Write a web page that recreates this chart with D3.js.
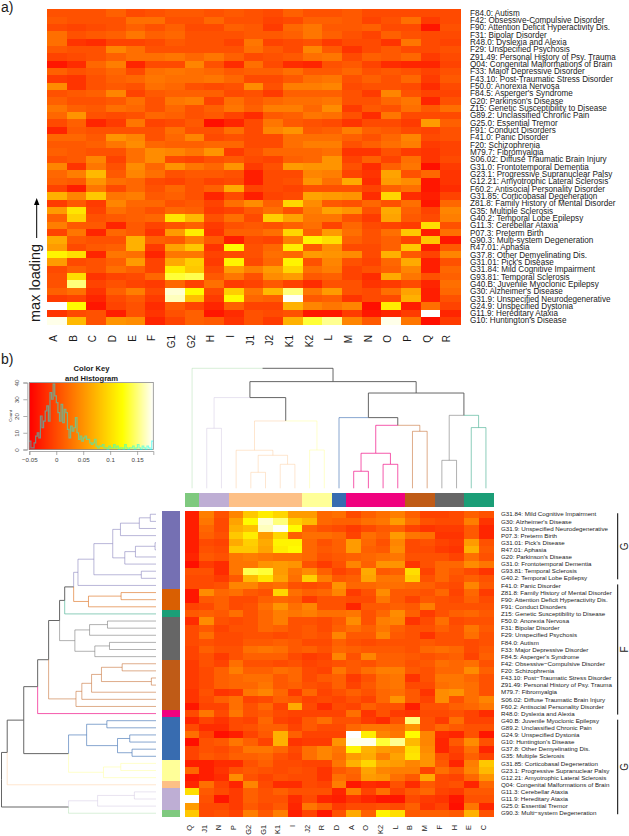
<!DOCTYPE html>
<html>
<head>
<meta charset="utf-8">
<script src="https://cdn.jsdelivr.net/npm/d3@7"></script>
<style>
	html, body { margin: 0; padding: 0; background: #fff; }
	text { font-family: "Liberation Sans", Arial, sans-serif; fill: #1a1a1a; }
</style>
</head>
<body>
<script>
//row labels as printed in panel a, top to bottom
const rowLabelsA = [
	"F84.0: Autism", "F42: Obsessive-Compulsive Disorder", "F90: Attention Deficit Hyperactivity Dis.",
	"F31: Bipolar Disorder", "R48.0: Dyslexia and Alexia", "F29: Unspecified Psychosis",
	"Z91.49: Personal History of Psy. Trauma", "Q04: Congenital Malformations of Brain",
	"F33: Major Depressive Disorder", "F43.10: Post-Traumatic Stress Disorder", "F50.0: Anorexia Nervosa",
	"F84.5: Asperger's Syndrome", "G20: Parkinson's Disease", "Z15: Genetic Susceptibility to Disease",
	"G89.2: Unclassified Chronic Pain", "G25.0: Essential Tremor", "F91: Conduct Disorders",
	"F41.0: Panic Disorder", "F20: Schizophrenia", "M79.7: Fibromyalgia",
	"S06.02: Diffuse Traumatic Brain Injury", "G31.0: Frontotemporal Dementia",
	"G23.1: Progressive Supranuclear Palsy", "G12.21: Amyotrophic Lateral Sclerosis",
	"F60.2: Antisocial Personality Disorder", "G31.85: Corticobasal Degeneration",
	"Z81.8: Family History of Mental Disorder", "G35: Multiple Sclerosis", "G40.2: Temporal Lobe Epilepsy",
	"G11.3: Cerebellar Ataxia", "P07.3: Preterm Birth", "G90.3: Multi-system Degeneration",
	"R47.01: Aphasia", "G37.8: Other Demyelinating Dis.", "G31.01: Pick's Disease",
	"G31.84: Mild Cognitive Impairment", "G93.81: Temporal Sclerosis", "G40.B: Juvenile Myoclonic Epilepsy",
	"G30: Alzheimer's Disease", "G31.9: Unspecified Neurodegenerative", "G24.9: Unspecified Dystonia",
	"G11.9: Hereditary Ataxia", "G10: Huntington's Disease"
];
const colsA = ["A", "B", "C", "D", "E", "F", "G1", "G2", "H", "I", "J1", "J2", "K1", "K2", "L", "M", "N", "O", "P", "Q", "R"];

//clustered order of panel b
const rowCodesB = [
	"G31.84", "G30", "G31.9", "P07.3", "G31.01", "R47.01", "G20", "G31.0", "G93.81", "G40.2", "F41.0",
	"Z81.8", "F90", "F91", "Z15", "F50.0", "F31", "F29", "F84.0", "F33", "F84.5", "F42", "F20", "F43.10",
	"Z91.49", "M79.7", "S06.02", "F60.2", "R48.0", "G40.B", "G89.2", "G24.9", "G10", "G37.8", "G35",
	"G31.85", "G23.1", "G12.21", "Q04", "G11.3", "G11.9", "G25.0", "G90.3"
];
const colsB = ["Q", "J1", "N", "P", "G2", "G1", "K1", "I", "J2", "R", "D", "A", "O", "K2", "L", "B", "M", "F", "H", "E", "C"];

//loadings x 1000, rows in rowCodesB order, columns in colsB order
const loadings = [
	[-30, 35, 5, 40, 85, 110, 95, 55, 55, 20, 25, 0, 15, 25, 35, 15, -5, -5, 0, 15, 5],
	[-30, 30, 0, 60, 120, 170, 150, 90, 75, 20, 15, 15, 25, 30, 55, 25, 5, 0, 0, 35, -15],
	[-30, 20, 0, 70, 80, 165, 178, 120, 15, 5, 0, -10, 0, 10, 15, -5, -15, -10, -10, 10, -25],
	[-30, 15, 5, 85, 110, 55, 95, 15, 25, 25, 20, -5, 25, 15, 55, 30, 25, -15, -15, 10, -25],
	[-30, 0, -5, 65, 90, 65, 115, 115, 20, 5, 15, 55, 20, 5, 40, 0, 5, -5, -10, 55, 5],
	[-30, 5, 0, 85, 85, 60, 110, 120, 20, 10, 15, 55, 15, 10, 45, 0, 0, -10, -15, 70, 10],
	[-25, 10, 5, 30, 35, 30, 25, 25, 20, 5, 10, 15, 20, 25, 30, 5, 5, 5, -5, 25, 5],
	[-40, -10, -20, 30, 30, 50, 55, 50, 5, -10, 5, 40, 15, 50, 50, -15, 5, 20, 20, 45, 30],
	[5, 5, -20, 30, 140, 135, 55, 30, 45, 15, -5, 5, 65, 10, 15, 100, -5, 20, 10, 0, -15],
	[0, 0, -10, 10, 75, 105, 60, 25, 90, 35, 10, 15, 60, 30, 30, 90, 5, 20, 5, 15, 5],
	[0, 0, 5, 40, 40, 20, 25, 5, 0, 5, 50, 20, 20, 25, 25, 20, 15, 5, 0, 40, 10],
	[-35, 45, 20, 25, 10, 5, 95, 25, 15, 20, 40, -10, 5, 45, 10, 10, 5, 20, -5, 20, -10],
	[-35, 10, 15, 0, 0, 15, 20, 15, -10, 5, 5, 0, 0, 30, 10, -5, 10, 5, 0, 15, 0],
	[-5, 0, 15, 0, 5, 25, 50, 25, 40, 5, 5, -25, 10, 10, 15, 10, 35, 5, 5, 5, 5],
	[10, 15, 10, 25, 5, 20, 35, 30, 35, 25, 25, 30, 5, 20, 45, 15, -10, 5, 15, 20, 10],
	[-20, 45, 5, 0, 5, 20, 35, 5, 5, 0, 10, 45, 5, 35, 40, -15, 0, 25, 0, 5, 5],
	[0, 10, -5, 5, 5, 20, 15, 5, 10, 0, 15, 25, 15, 30, 15, 5, 5, 15, 5, 30, 10],
	[0, 25, 0, 0, 5, 5, 0, 5, 10, 5, 40, 10, 10, 40, 10, 5, -15, 5, 5, 25, 5],
	[0, 5, 0, 0, 10, 10, 15, 10, 0, 0, 15, 5, 0, 5, 5, 5, 10, 5, 5, 0, 5],
	[-5, 15, 5, 5, 25, 30, 25, 10, 15, 5, 20, 15, 10, 10, 10, 5, 20, 25, 20, 0, 10],
	[-5, 5, -10, 5, 15, 15, 15, 0, -10, -5, 40, 5, 40, 15, 15, 10, 5, 10, 15, -5, 15],
	[-10, 5, -5, 25, 5, 5, 0, 5, -5, 0, 5, 10, 5, 15, 15, 5, 10, 25, 20, 25, 5],
	[-10, 0, 15, 35, 15, 15, 25, 20, 0, -5, 30, 10, 25, 35, 35, 10, 5, 20, 20, 45, 15],
	[-10, 0, 15, 20, 25, 25, 10, 20, 0, 10, 15, -10, 5, 25, 30, -15, 5, 30, 30, 20, 5],
	[-10, 0, 15, 20, 20, 30, 10, 15, 5, 0, 15, -5, 10, 25, 30, 0, 0, 25, 30, 25, 5],
	[-15, 5, -15, -10, 30, 40, 20, -10, 20, -5, 5, 15, 5, 20, 25, 10, -15, 45, 50, 25, 5],
	[-15, 0, 15, 25, -5, 0, 15, 10, -5, 0, -5, 5, -5, 20, 50, 10, -5, 45, 5, 25, 40],
	[-35, -5, -5, 25, 5, 20, -5, 65, 0, -20, 0, -5, 15, 5, 5, -30, 5, 5, 15, 20, 30],
	[0, 30, 0, 30, 5, 10, 0, -5, -5, -5, -5, 25, -15, 5, -10, -15, 0, 0, 5, -5, -20],
	[-25, -5, -15, 0, -5, 20, -5, -10, 10, 25, 5, 5, -10, -20, 5, 150, 5, -10, 25, -5, -5],
	[0, -20, -20, 0, 5, 15, 15, -5, 10, 0, 0, 20, 30, 30, 25, 50, 5, 20, 10, 5, 5],
	[25, -5, -40, -30, -5, 10, 70, 15, -5, -5, -5, 180, 110, 40, 30, 120, 40, -20, -25, 5, -35],
	[-40, 5, 10, 30, 15, -5, 70, -15, -10, -10, 50, 175, 175, 135, 155, 75, 40, -25, 10, 45, 5],
	[-5, 5, 0, 10, 30, 30, 20, 0, 25, 40, 30, 115, 70, 55, 50, 100, 45, -25, -5, 25, -25],
	[-5, 10, 5, 15, 15, 20, 5, -5, 25, 40, 25, 55, 65, 35, 60, 105, 50, 5, -10, 15, -5],
	[-30, -30, -20, -20, 5, 15, 0, 0, -5, -5, 30, 70, 95, 60, 55, 40, 50, 10, -25, 35, 85],
	[20, -30, -15, 5, 10, 5, 0, 5, 0, -15, 10, 20, 60, 40, 35, 35, -5, 25, 10, 40, 75],
	[-35, -30, -20, 45, 5, -5, 5, 0, 0, -15, 25, 15, 55, 50, 25, 10, 65, 0, -5, 20, 50],
	[-25, 25, -5, -25, 40, 0, -20, -20, 0, -5, 35, -35, -20, -25, 5, -20, 10, 0, 5, -25, 20],
	[100, 10, 0, -10, 15, 5, 15, 5, 5, 5, -25, 35, -5, 25, -5, 10, 20, -5, -10, 10, 10],
	[180, 5, -35, -10, 15, 5, 5, -20, 0, -25, -30, -15, -25, -35, -35, 0, -10, -15, -35, 5, 5],
	[55, 0, 0, -10, 10, 0, 10, -25, 30, 15, -10, 0, 0, 5, 0, 15, -15, -5, -40, 30, -25],
	[85, 0, 5, -5, 35, 10, 35, -30, -5, -35, 5, 65, 15, 115, 100, 10, 15, 15, 10, 70, 5]
];

//dendrograms as [height, left, right], height relative to the root
const colTree = [1,
	"Q",
	[.889,
		[.756,
			[.5, "J1", "N"],
			[.561,
				[.317, "P", [.275, [.133, "G2", "G1"], [.2, "K1", "I"]]],
				[.319, "J2", "R"]
			]
		],
		[.794,
			[.589,
				"D",
				[.525,
					[.292, [.142, "A", "O"], [.2, "K2", "L"]],
					[.475, "B", "M"]
				]
			],
			[.608, [.233, "F", "H"], [.506, "E", "C"]]
		]
	]
];
const rowTree = [1,
	[.963,
		[.856,
			[.766,
				[.695,
					[.624,
						[.591,
							[.533,
								[.505,
									[.402,
										[.28,
											[.23, [.108, [.037, "G31.84", "G30"], "G31.9"], "P07.3"],
											[.202, [.133, [.006, "G31.01", "R47.01"], "G20"], "G31.0"]
										],
										[.095, "G93.81", "G40.2"]
									],
									"F41.0"
								],
								[.437, [.226, "Z81.8", "F90"], "F91"]
							],
							"Z15"
						],
						[.525,
							[.43, [.314, "F50.0", "F31"], "F29"],
							[.396, [.301, "F84.0", "F33"], "F84.5"]
						]
					],
					[.518,
						[.48,
							[.417, [.353, [.219, "F42", "F20"], [.03, "F43.10", "Z91.49"]], "M79.7"],
							"S06.02"
						],
						"F60.2"
					]
				],
				"R48.0"
			],
			[.566,
				[.449,
					[.318, "G40.B", "G89.2"],
					[.249, [.17, "G24.9", "G10"], [.155, "G37.8", "G35"]]
				],
				[.34, [.228, "G31.85", "G23.1"], "G12.21"]
			]
		],
		"Q04"
	],
	[.566,
		[.378, [.14, "G11.3", "G11.9"], "G25.0"],
		"G90.3"
	]
];

//cluster sizes along the side bars, with the palette colour of each
const colClusterSizes = [1, 2, 5, 2, 1, 4, 2, 2, 2];
const colClusterKeys = ["green", "lavender", "peach", "yellow", "blue", "pink", "brown", "grey", "teal"];
const rowClusterSizes = [11, 3, 1, 6, 7, 1, 6, 3, 1, 3, 1];
const rowClusterKeys = ["purple", "orange", "teal", "grey", "brown", "pink", "blue", "yellow", "peach", "lavender", "green"];

//brackets at the right of panel b
const bracketNames = ["G", "F", "G"];
const bracketFirst = ["G31.84", "F41.0", "G40.B"];
const bracketLast = ["G40.2", "R48.0", "G90.3"];

//histogram of the colour key, counts per bin
const histCounts = [
	5, 1, 1, 4, 8, 10, 7, 20, 13, 17, 23, 26, 17, 34, 30, 39, 32, 28, 22, 17, 27, 16, 24, 22, 12, 7, 14, 11, 13, 19, 10,
	6, 8, 5, 7, 8, 6, 6, 4, 3, 4, 6, 2, 1, 2, 2, 3, 1, 1, 0, 2, 1, 1, 3, 1, 2, 0, 1, 1, 0, 3, 1, 0, 1, 1, 2, 0, 1, 3, 1,
	0, 2, 1, 0, 2, 1, 0, 5
];
const keyTicksX = [-0.05, 0, 0.05, 0.1, 0.15];
const keyTicksY = [0, 10, 20, 30, 40];
const keyDomain = [-0.05, 0.18];

const width = 629;
const height = 836;

const svg = d3.select("body").append("svg")
	.attr("width", width)
	.attr("height", height)
	.style("display", "block");

//heat colours, red to yellow over 3/4 of the range, then yellow to white
const heat = d3.scaleLinear()
	.domain([keyDomain[0], keyDomain[0] + (keyDomain[1] - keyDomain[0]) * 0.75, keyDomain[1]])
	.range(["#ff0000", "#ffff00", "#ffffff"])
	.clamp(true);

const palette = {
	green: d3.schemeAccent[0], lavender: d3.schemeAccent[1], peach: d3.schemeAccent[2], yellow: d3.schemeAccent[3],
	blue: d3.schemeAccent[4], pink: d3.schemeAccent[5], brown: d3.schemeAccent[6], grey: d3.schemeAccent[7],
	teal: d3.schemeDark2[0], orange: d3.schemeDark2[1], purple: d3.schemeDark2[2]
};
//the dendrogram branches are faded versions of the bar colours
const branchOpacity = {
	green: .3, lavender: .35, peach: .4, yellow: .5, blue: .6, pink: .65, brown: .5, grey: .5, teal: .5, orange: .55, purple: .5
};

const codeOf = label => label.split(":")[0];
const valueAt = (code, col) => loadings[rowCodesB.indexOf(code)][colsB.indexOf(col)] / 1000;

//spread the cluster sizes over the names they cover
const clusterLookup = (names, sizes, keys) => {
	const lookup = {};
	let i = 0;
	sizes.forEach((size, k) => {
		d3.range(size).forEach(() => { lookup[names[i++]] = keys[k]; });
	});
	return lookup;
};
const colCluster = clusterLookup(colsB, colClusterSizes, colClusterKeys);
const rowCluster = clusterLookup(rowCodesB, rowClusterSizes, rowClusterKeys);

//cells of one heatmap
const drawCells = (g, rowCodes, cols, x, y) => {
	const cells = [];
	rowCodes.forEach(code => cols.forEach(col => cells.push({code, col})));
	g.attr("shape-rendering", "crispEdges")
		.selectAll("rect")
		.data(cells)
		.join("rect")
		.attr("x", d => x(d.col))
		.attr("y", d => y(d.code))
		.attr("width", x.bandwidth() + .5)
		.attr("height", y.bandwidth() + .5)
		.attr("fill", d => heat(valueAt(d.code, d.col)));
};

// ---------- panel a ----------
const rowCodesA = rowLabelsA.map(codeOf);
const xA = d3.scaleBand().domain(colsA).range([47, 460]);
const yA = d3.scaleBand().domain(rowCodesA).range([9.3, 324.3]);

drawCells(svg.append("g"), rowCodesA, colsA, xA, yA);

svg.append("g").selectAll("text")
	.data(rowLabelsA)
	.join("text")
	.attr("x", 470)
	.attr("y", d => yA(codeOf(d)) + yA.bandwidth() / 2)
	.attr("dy", ".35em")
	.style("font-size", "8.15px")
	.text(d => d);

svg.append("g").selectAll("text")
	.data(colsA)
	.join("text")
	.attr("transform", d => `translate(${xA(d) + xA.bandwidth() / 2},335) rotate(-90)`)
	.attr("text-anchor", "end")
	.style("font-size", "10px")
	.text(d => d);

svg.append("text").attr("x", 1).attr("y", 12).style("font-size", "14px").text("a)");

svg.append("text")
	.attr("transform", "translate(39.5,322) rotate(-90)")
	.style("font-size", "14.5px")
	.text("max loading");

const arrowX = 36.7;
svg.append("line")
	.attr("x1", arrowX).attr("x2", arrowX)
	.attr("y1", 238).attr("y2", 204)
	.attr("stroke", "#000")
	.attr("stroke-width", 1);
svg.append("path")
	.attr("d", d3.line()([[arrowX - 2.7, 205], [arrowX, 198], [arrowX + 2.7, 205]]))
	.attr("fill", "#000");

// ---------- panel b, colour key ----------
svg.append("text").attr("x", 1).attr("y", 364).style("font-size", "14px").text("b)");

const keyX = d3.scaleLinear().domain(keyDomain).range([29.3, 153.3]);
const keyY = d3.scaleLinear().domain([0, 40]).range([449.5, 382.5]);
const keyStep = (keyDomain[1] - keyDomain[0]) / 124;

const key = svg.append("g");
key.append("g")
	.attr("shape-rendering", "crispEdges")
	.selectAll("rect")
	.data(d3.range(keyDomain[0], keyDomain[1], keyStep))
	.join("rect")
	.attr("x", d => keyX(d))
	.attr("y", keyY(40))
	.attr("width", keyX(keyStep) - keyX(0) + .5)
	.attr("height", keyY(0) - keyY(40))
	.attr("fill", d => heat(d));
key.append("rect")
	.attr("x", keyX.range()[0])
	.attr("y", keyY(40))
	.attr("width", keyX.range()[1] - keyX.range()[0])
	.attr("height", keyY(0) - keyY(40))
	.attr("fill", "none")
	.attr("stroke", "#8a8a8a")
	.attr("stroke-width", .8);

//histogram trace, half transparent cyan turns grey over the red end
const binWidth = (keyDomain[1] - keyDomain[0]) / histCounts.length;
const histLine = d3.line()
	.x((d, i) => keyX(keyDomain[0] + i * binWidth))
	.y(d => keyY(d))
	.curve(d3.curveStepAfter);
key.append("path")
	.attr("d", histLine(histCounts.concat([histCounts[histCounts.length - 1]])))
	.attr("fill", "none")
	.attr("stroke", "#00ffff")
	.attr("stroke-opacity", .5)
	.attr("stroke-width", 1.2);

const keyAxisX = key.append("g")
	.attr("transform", `translate(0,${keyY(0) + 1.5})`)
	.call(d3.axisBottom(keyX).tickValues(keyTicksX).tickSize(4).tickPadding(3).tickFormat(d => d === 0 ? "0" : String(d).replace("-", "\u2212")));
const keyAxisY = key.append("g")
	.attr("transform", `translate(${keyX.range()[0] - 2},0)`)
	.call(d3.axisLeft(keyY).tickValues(keyTicksY).tickSize(4).tickPadding(2));
keyAxisX.selectAll("text").style("font-size", "6.2px").style("fill", "#444");
keyAxisY.selectAll("text")
	.style("font-size", "6.2px")
	.style("fill", "#444")
	.attr("text-anchor", "middle")
	.attr("transform", "rotate(-90)")
	.attr("x", 0)
	.attr("dy", 0)
	.attr("y", -8);
[keyAxisX, keyAxisY].forEach(a => {
	a.selectAll("path, line").attr("stroke", "#8a8a8a").attr("stroke-width", .7);
});

key.append("text")
	.attr("transform", "translate(12,416) rotate(-90)")
	.attr("text-anchor", "middle")
	.style("font-size", "4.4px")
	.style("fill", "#444")
	.text("Count");
key.selectAll(".keyTitle")
	.data(["Color Key", "and Histogram"])
	.join("text")
	.attr("class", "keyTitle")
	.attr("x", 91.5)
	.attr("y", (d, i) => 371 + i * 9.6)
	.attr("text-anchor", "middle")
	.style("font-size", "7.6px")
	.style("font-weight", "bold")
	.text(d => d);

// ---------- panel b, heatmap ----------
const xB = d3.scaleBand().domain(colsB).range([184.7, 493.3]);
const yB = d3.scaleBand().domain(rowCodesB).range([510.7, 816.8]);

drawCells(svg.append("g"), rowCodesB, colsB, xB, yB);

//side bars
svg.append("g").attr("shape-rendering", "crispEdges").selectAll("rect")
	.data(colsB)
	.join("rect")
	.attr("x", d => xB(d))
	.attr("y", 493.3)
	.attr("width", xB.bandwidth() + .5)
	.attr("height", 13.4)
	.attr("fill", d => palette[colCluster[d]]);
svg.append("g").attr("shape-rendering", "crispEdges").selectAll("rect")
	.data(rowCodesB)
	.join("rect")
	.attr("x", 162.3)
	.attr("y", d => yB(d))
	.attr("width", 18)
	.attr("height", yB.bandwidth() + .5)
	.attr("fill", d => palette[rowCluster[d]]);

//labels of panel b use a real minus, the way the original device printed them
const rowLabelsB = rowCodesB.map(code => rowLabelsA.find(l => codeOf(l) === code).replace(/-/g, "\u2212"));
svg.append("g").selectAll("text")
	.data(rowLabelsB)
	.join("text")
	.attr("x", 501)
	.attr("y", d => yB(codeOf(d)) + yB.bandwidth() / 2)
	.attr("dy", ".35em")
	.style("font-size", "6.2px")
	.text(d => d);
svg.append("g").selectAll("text")
	.data(colsB)
	.join("text")
	.attr("transform", d => `translate(${xB(d) + xB.bandwidth() / 2},825) rotate(-90)`)
	.attr("text-anchor", "end")
	.style("font-size", "7.4px")
	.text(d => d);

//brackets run from the middle of the first row to the middle of the last
const brackets = bracketNames.map((name, i) => ({name, first: bracketFirst[i], last: bracketLast[i]}));
const rowMid = code => yB(code) + yB.bandwidth() / 2;
const bracketG = svg.append("g").selectAll("g").data(brackets).join("g");
bracketG.append("line")
	.attr("x1", 617.7).attr("x2", 617.7)
	.attr("y1", d => rowMid(d.first) - 1)
	.attr("y2", d => rowMid(d.last) + 1)
	.attr("stroke", "#000")
	.attr("stroke-width", 1);
bracketG.append("text")
	.attr("transform", d => `translate(627.5,${(rowMid(d.first) + rowMid(d.last)) / 2}) rotate(-90)`)
	.attr("text-anchor", "middle")
	.style("font-size", "10px")
	.text(d => d.name);

// ---------- dendrograms ----------
const makeTree = (nested, scale) => {
	const root = d3.hierarchy(nested, d => Array.isArray(d) ? d.slice(1) : null);
	root.eachAfter(nd => {
		if (nd.children) {
			nd.h = nd.data[0];
			nd.pos = (nd.children[0].pos + nd.children[1].pos) / 2;
		} else {
			nd.h = 0;
			nd.pos = scale(nd.data) + scale.bandwidth() / 2;
		}
	});
	return root;
};

//a branch takes its cluster colour if all its leaves share a cluster
const branchKey = (nd, cluster) => {
	const keys = new Set(nd.leaves().map(l => cluster[l.data]));
	return keys.size === 1 ? [...keys][0] : null;
};

const drawBranches = (root, cluster, elbow) => {
	svg.append("g").selectAll("path")
		.data(root.descendants().slice(1)) //every node but the root has a link up
		.join("path")
		.attr("d", elbow)
		.attr("fill", "none")
		.attr("stroke-width", 1)
		.attr("stroke", nd => {
			const k = branchKey(nd, cluster);
			return k ? palette[k] : "#555";
		})
		.attr("stroke-opacity", nd => {
			const k = branchKey(nd, cluster);
			return k ? branchOpacity[k] : .9;
		});
};

const topH = d3.scaleLinear().domain([0, 1]).range([488.3, 368.3]);
const leftH = d3.scaleLinear().domain([0, 1]).range([156, 1.5]);

const colRoot = makeTree(colTree, xB);
drawBranches(colRoot, colCluster, nd => {
	const p = nd.parent;
	return d3.line()([[nd.pos, topH(nd.h)], [nd.pos, topH(p.h)], [p.pos, topH(p.h)]]);
});

const rowRoot = makeTree(rowTree, yB);
drawBranches(rowRoot, rowCluster, nd => {
	const p = nd.parent;
	return d3.line()([[leftH(nd.h), nd.pos], [leftH(p.h), nd.pos], [leftH(p.h), p.pos]]);
});
</script>
</body>
</html>
